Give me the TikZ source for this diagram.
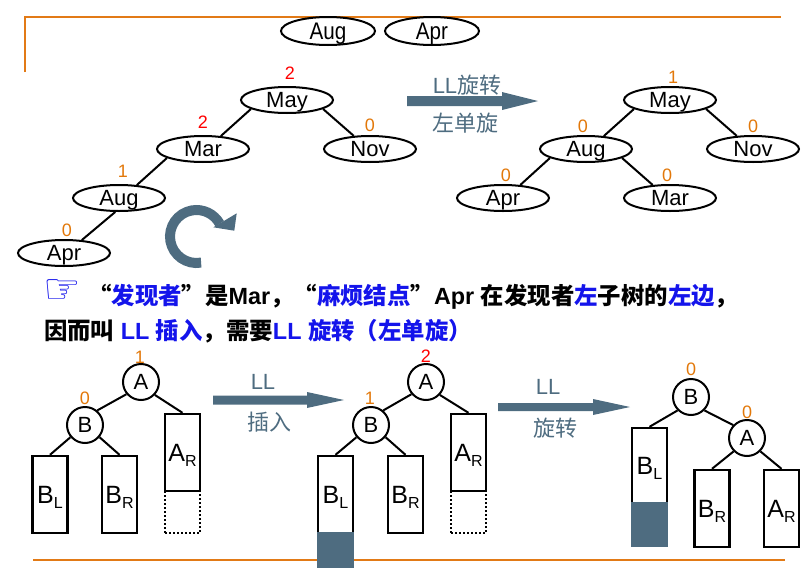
\documentclass[tikz,border=0pt]{standalone}
\usepackage{fontspec}
\setmainfont{Liberation Sans}
\newfontfamily\cjk{Noto Sans CJK SC}
\newfontfamily\symfont{DejaVu Sans}
\newfontfamily\narrowfont[FakeStretch=0.86]{Liberation Sans}
\usetikzlibrary{shapes.geometric,calc}

\definecolor{slate}{RGB}{78,108,128}
\definecolor{ruleorange}{RGB}{226,122,22}
\definecolor{numorange}{RGB}{226,120,10}
\definecolor{txtblue}{RGB}{20,20,235}

% letter with a lowered, smaller index (B_L, A_R, ...)
\newcommand\sublab[2]{#1\raisebox{-5pt}{\fontsize{16}{16}\selectfont #2}}

\tikzset{
  avl/.style={ellipse, draw, line width=2pt, minimum width=92pt, minimum height=26pt,
    inner sep=0pt, text height=15pt, text depth=0pt, font=\fontsize{22}{22}\selectfont},
  topavl/.style={avl, minimum width=94pt, minimum height=28pt, text height=17pt,
    font=\narrowfont\fontsize{24}{24}\selectfont},
  link/.style={line width=2pt},
  num/.style={inner sep=0pt, font=\fontsize{18}{18}\selectfont, text=numorange},
  hot/.style={num, text=red},
  cnode/.style={circle, draw, line width=2pt, minimum size=36pt, inner sep=0pt,
    text height=15.5pt, text depth=0pt, font=\fontsize{22}{22}\selectfont},
  subtree/.style={rectangle, draw, line width=2.4pt, minimum width=35pt, minimum height=77pt,
    inner sep=0pt, text height=18pt, text depth=0pt, font=\fontsize{25}{25}\selectfont},
  ghost/.style={rectangle, draw, line width=1.8pt, dash pattern=on 1.8pt off 2.2pt,
    minimum width=35pt, minimum height=42pt, inner sep=0pt},
  growbox/.style={rectangle, fill=slate, minimum width=37.4pt, inner sep=0pt},
  arrlabel/.style={inner sep=0pt, text=slate, font=\fontsize{22}{22}\selectfont},
  fatarrow/.style={fill=slate},
  rule/.style={draw=ruleorange, line width=2pt},
  textline/.style={inner sep=0pt, anchor=base west, font=\bfseries\fontsize{23.4}{28}\selectfont},
}

\begin{document}
\begin{tikzpicture}[x=1pt,y=-1pt]
\useasboundingbox (0,0) rectangle (812,568);

% frame rules
\draw[rule] (25,72) -- (25,17) -- (781,17);
\draw[rule] (33,560) -- (785,560);

% nodes still waiting to be inserted
\node[topavl] (augtop) at (328,31) {Aug};
\node[topavl] (aprtop) at (432,31) {Apr};

% unbalanced tree
\node[avl] (may1) at (287,100) {May};
\node[avl] (mar1) at (203,149) {Mar};
\node[avl] (nov1) at (370,149) {Nov};
\node[avl] (aug1) at (119,198) {Aug};
\node[avl] (apr1) at (64,253) {Apr};
\draw[link] (may1.194) -- (mar1.36);
\draw[link] (may1.346) -- (nov1.141);
\draw[link] (mar1.194) -- (aug1.36);
\draw[link] (aug1.255) -- (apr1.36);
\node[hot] (bmay1) at (290,73) {2};
\node[hot] (bmar1) at (203,122) {2};
\node[num] (bnov1) at (370,125) {0};
\node[num] (baug1) at (123,171) {1};
\node[num] (bapr1) at (67,230) {0};

% rotation symbol
\draw[slate, line width=10pt] (196.5,236.5) ++(-80:26.5pt) arc[start angle=-80, end angle=-331, radius=26.5pt];
\fill[slate] (213.3,227.3) -- (236.7,213.3) -- (234.3,230.7) -- cycle;

% LL rotation arrow
\fill[fatarrow] (407,96) -- (502,96) -- (502,92) -- (538,101) -- (502,110) -- (502,106) -- (407,106) -- cycle;
\node[arrlabel] (rotlab) at (467,85) {LL{\cjk 旋转}};
\node[arrlabel] (rotlab2) at (465,123) {\cjk 左单旋};

% balanced tree
\node[avl] (may2) at (670,100) {May};
\node[avl] (aug2) at (586,149) {Aug};
\node[avl] (nov2) at (753,149) {Nov};
\node[avl] (apr2) at (503,198) {Apr};
\node[avl] (mar2) at (670,198) {Mar};
\draw[link] (may2.194) -- (aug2.36);
\draw[link] (may2.346) -- (nov2.141);
\draw[link] (aug2.194) -- (apr2.37);
\draw[link] (aug2.346) -- (mar2.143);
\node[num] (bmay2) at (673,77) {1};
\node[num] (baug2) at (583,126) {0};
\node[num] (bnov2) at (753,126) {0};
\node[num] (bapr2) at (506,175) {0};
\node[num] (bmar2) at (667,175) {0};

% explanation
\node[inner sep=0pt, text=txtblue, font=\symfont\bfseries\fontsize{42}{42}\selectfont] (hand) at (62.5,292) {☞};
\node[textline] (text1) at (88,304.5) {{\cjk “\textcolor{txtblue}{发现者}”是}Mar{\cjk ，“\textcolor{txtblue}{麻烦结点}”}Apr {\cjk 在发现者\textcolor{txtblue}{左}子树的\textcolor{txtblue}{左边}，}};
\node[textline] (text2) at (44,339.5) {{\cjk 因而叫} \textcolor{txtblue}{LL {\cjk 插入}}{\cjk ，需要}\textcolor{txtblue}{LL {\cjk 旋转（左单旋）}}};

% general case: before insertion
\node[cnode] (a1) at (141,382) {A};
\node[cnode] (b1) at (85,425) {B};
\node[subtree] (bl1) at (50,494.5) {\sublab{B}{L}};
\node[subtree] (br1) at (119.5,494.5) {\sublab{B}{R}};
\node[subtree] (ar1) at (182.5,452.5) {\sublab{A}{R}};
\node[ghost] (ax1) at (182.5,512) {};
\draw[link] (a1.220) -- (b1.50);
\draw[link] (a1.-43) -- (ar1.north);
\draw[link] (b1.220) -- (bl1.north);
\draw[link] (b1.-40) -- (br1.north);
\node[num] (ba1) at (140,357) {1};
\node[num] (bb1) at (85,398) {0};

% LL insertion arrow
\fill[fatarrow] (213,395.5) -- (307,395.5) -- (307,392) -- (344,400) -- (307,408) -- (307,404.5) -- (213,404.5) -- cycle;
\node[arrlabel] (inslab) at (263,382) {LL};
\node[arrlabel] (inslab2) at (269,422) {\cjk 插入};

% after insertion
\node[cnode] (a2) at (426,382) {A};
\node[cnode] (b2) at (371,425) {B};
\node[subtree] (bl2) at (335.5,494.5) {\sublab{B}{L}};
\node[growbox, minimum height=36.4pt] (gl2) at (335.5,550) {};
\node[subtree] (br2) at (405.5,494.5) {\sublab{B}{R}};
\node[subtree] (ar2) at (468.5,452.5) {\sublab{A}{R}};
\node[ghost] (ax2) at (468.5,512) {};
\draw[link] (a2.220) -- (b2.50);
\draw[link] (a2.-43) -- (ar2.north);
\draw[link] (b2.220) -- (bl2.north);
\draw[link] (b2.-40) -- (br2.north);
\node[hot] (ba2) at (426,356) {2};
\node[num] (bb2) at (370,398) {1};

% LL rotation arrow
\fill[fatarrow] (498,403) -- (593,403) -- (593,399) -- (630,407) -- (593,415) -- (593,411) -- (498,411) -- cycle;
\node[arrlabel] (rotlab3) at (548,387) {LL};
\node[arrlabel] (rotlab4) at (555,428) {\cjk 旋转};

% after rotation
\node[cnode] (b3) at (691,397) {B};
\node[cnode] (a3) at (747,438) {A};
\node[subtree, minimum height=75pt] (bl3) at (649.5,465.5) {\sublab{B}{L}};
\node[growbox, minimum height=45.6pt] (gl3) at (649.5,524.6) {};
\node[subtree] (br3) at (712,508.5) {\sublab{B}{R}};
\node[subtree] (ar3) at (781.5,508.5) {\sublab{A}{R}};
\draw[link] (b3.225) -- (bl3.north);
\draw[link] (b3.-45) -- (a3.137);
\draw[link] (a3.225) -- (br3.north);
\draw[link] (a3.-45) -- (ar3.north);
\node[num] (bb3) at (691,369) {0};
\node[num] (ba3) at (747,412) {0};
\end{tikzpicture}
\end{document}
